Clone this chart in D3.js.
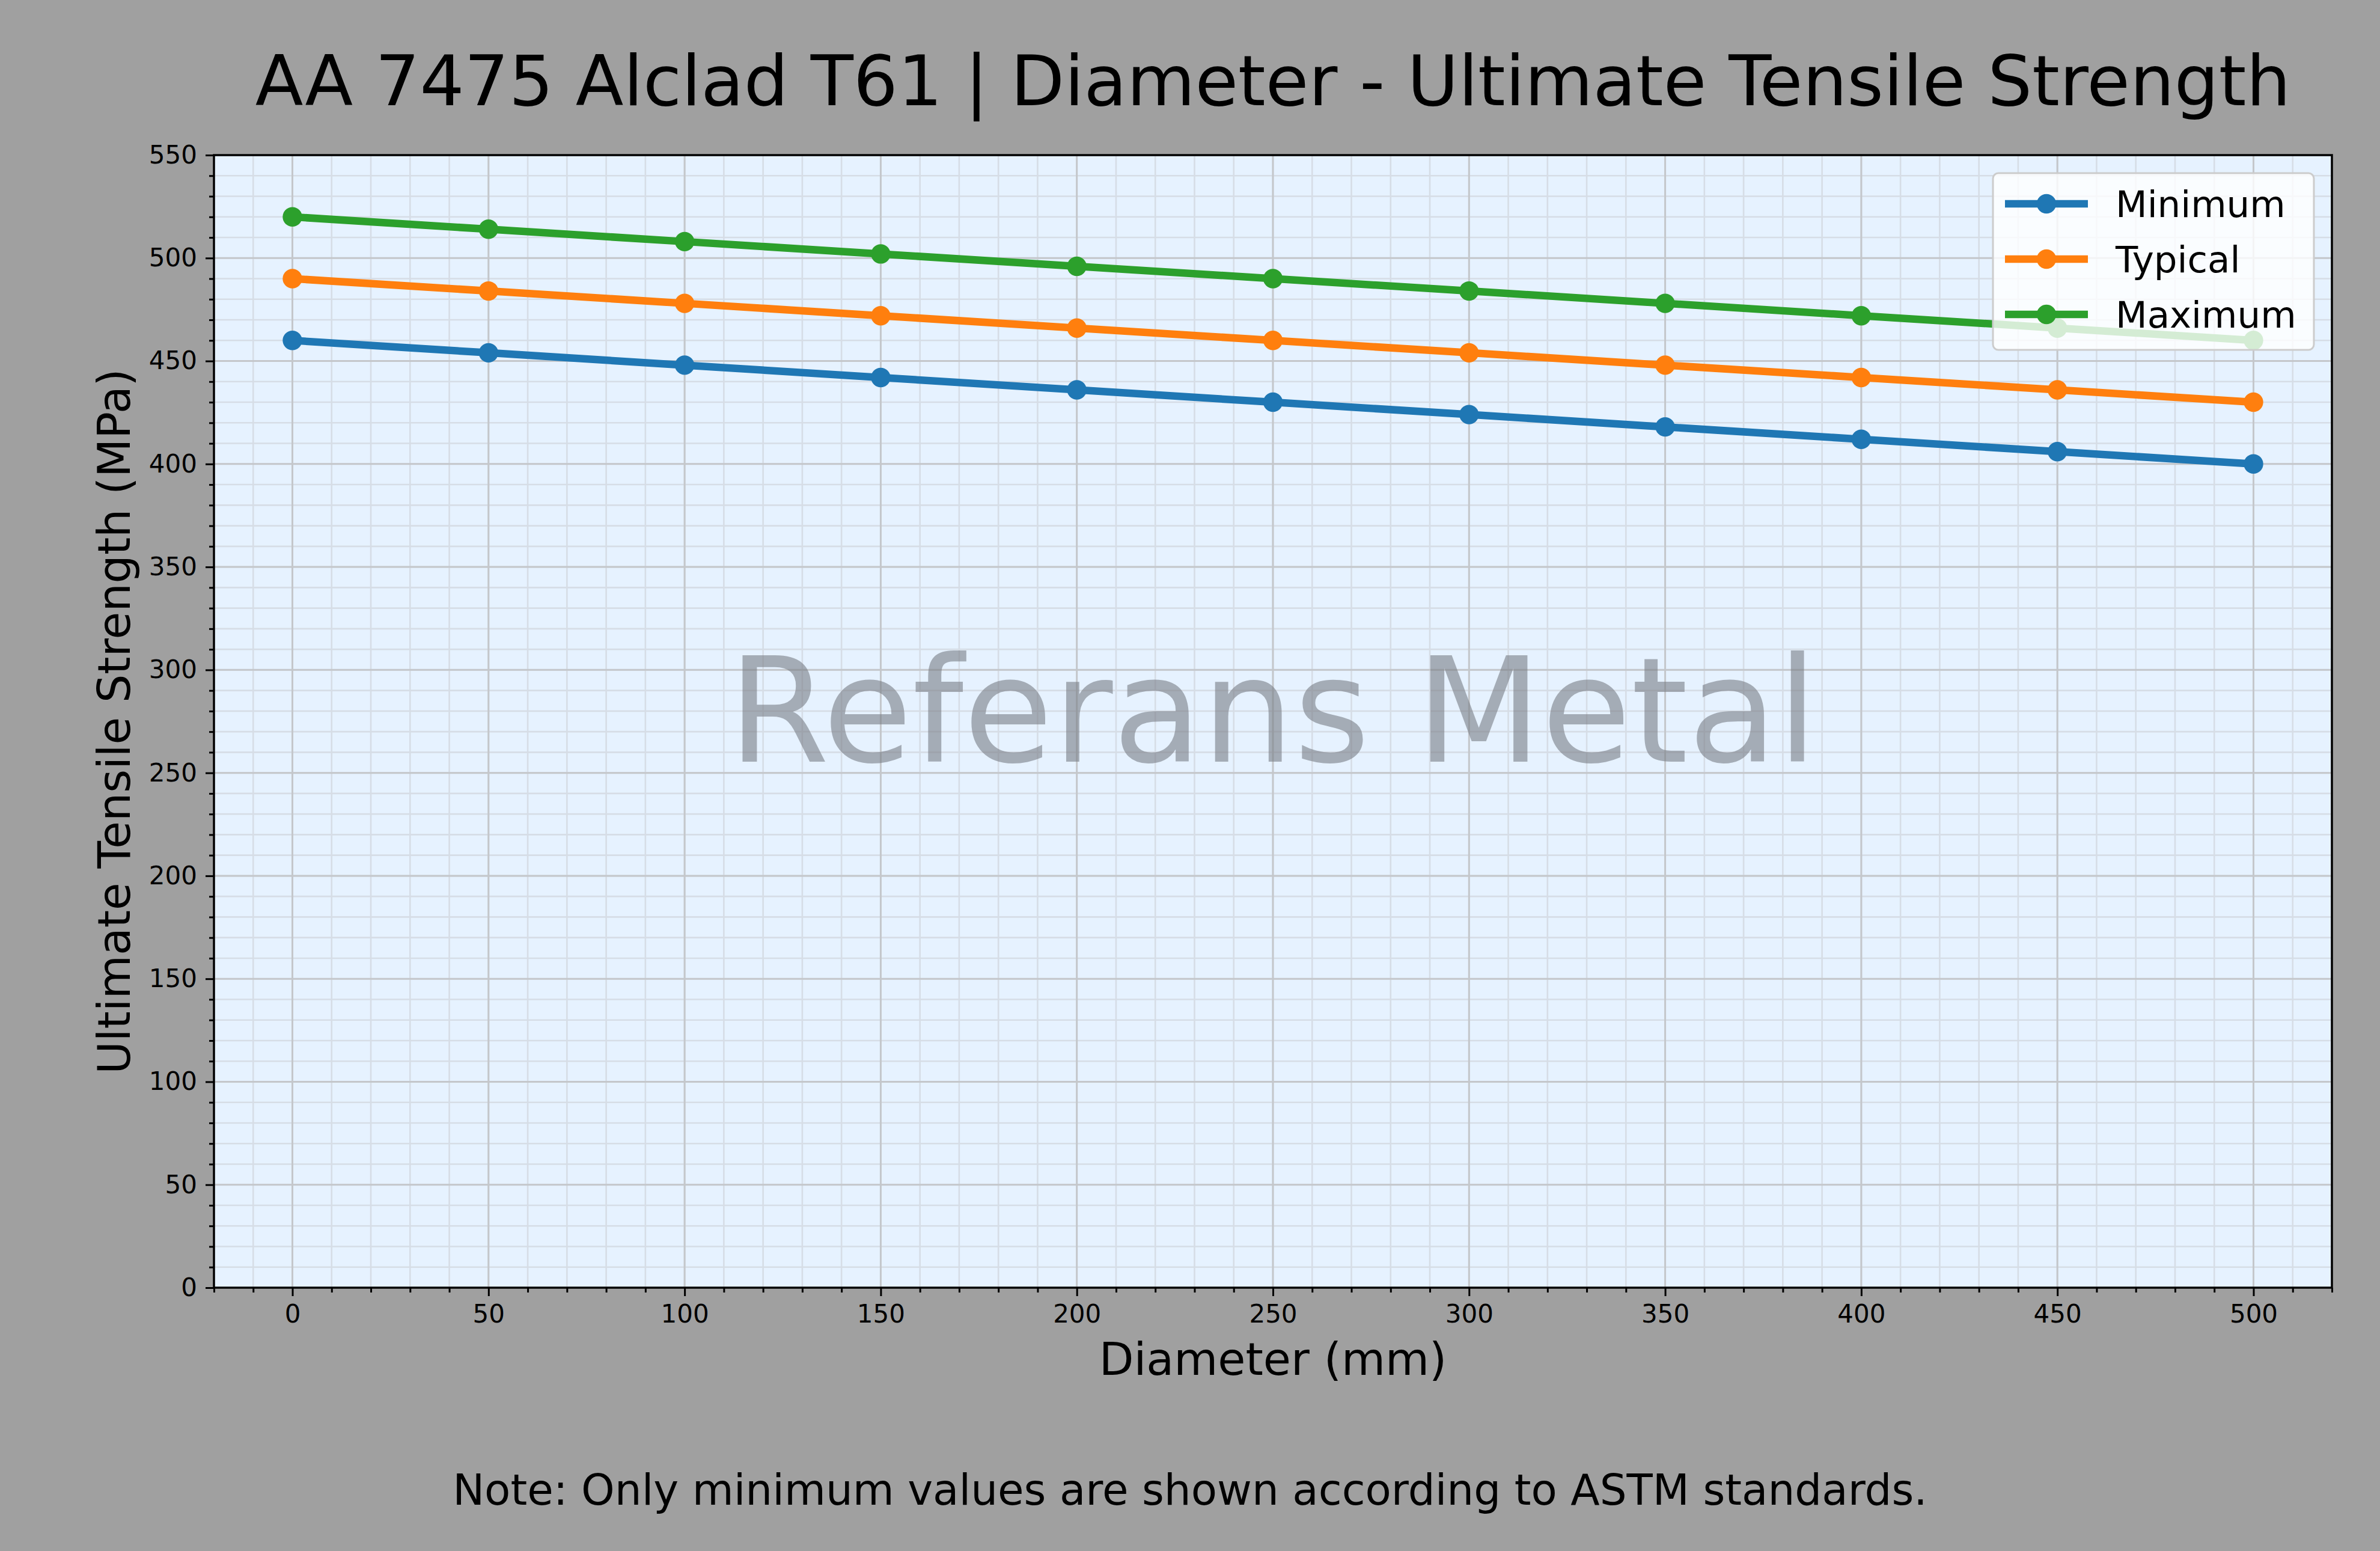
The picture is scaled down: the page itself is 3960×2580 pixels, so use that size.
<!DOCTYPE html>
<html>
<head>
<meta charset="utf-8">
<script src="https://cdn.jsdelivr.net/npm/d3@7"></script>
<style>
  html, body { margin: 0; padding: 0; background: #a0a0a0; }
  svg { display: block; font-family: "DejaVu Sans", sans-serif; }
</style>
</head>
<body>
<svg id="chart"></svg>
<script>
// AA 7475 Alclad T61 - diameter vs ultimate tensile strength

const diameters     = [0, 50, 100, 150, 200, 250, 300, 350, 400, 450, 500];
const minimumValues = [460, 454, 448, 442, 436, 430, 424, 418, 412, 406, 400];
const typicalValues = [490, 484, 478, 472, 466, 460, 454, 448, 442, 436, 430];
const maximumValues = [520, 514, 508, 502, 496, 490, 484, 478, 472, 466, 460];
const seriesNames   = ['Minimum', 'Typical', 'Maximum'];
const xTickValues   = [0, 50, 100, 150, 200, 250, 300, 350, 400, 450, 500];
const yTickValues   = [0, 50, 100, 150, 200, 250, 300, 350, 400, 450, 500, 550];

const W = 3960, H = 2580;
const m = { left: 356, right: 3880, top: 258, bottom: 2142 };
const colors = ['#1f77b4', '#ff7f0e', '#2ca02c'];

const svg = d3.select('#chart').attr('width', W).attr('height', H);
svg.append('rect').attr('width', W).attr('height', H).attr('fill', '#a0a0a0');

const x = d3.scaleLinear().domain([-20, 520]).range([m.left, m.right]);
const y = d3.scaleLinear().domain([0, 550]).range([m.bottom, m.top]);

// plot background
svg.append('rect')
    .attr('x', m.left).attr('y', m.top)
    .attr('width', m.right - m.left).attr('height', m.bottom - m.top)
    .attr('fill', '#e6f2ff');

// grid: minor then major
const xMinor = d3.range(-20, 521, 10);
const yMinor = d3.range(0, 551, 10);
const grid = svg.append('g');
grid.selectAll('.gxm').data(xMinor).enter().append('line')
    .attr('x1', d => x(d)).attr('x2', d => x(d))
    .attr('y1', m.top).attr('y2', m.bottom)
    .attr('stroke', '#d6dde6').attr('stroke-width', 2.6);
grid.selectAll('.gym').data(yMinor).enter().append('line')
    .attr('y1', d => y(d)).attr('y2', d => y(d))
    .attr('x1', m.left).attr('x2', m.right)
    .attr('stroke', '#d6dde6').attr('stroke-width', 2.6);
grid.selectAll('.gx').data(xTickValues).enter().append('line')
    .attr('x1', d => x(d)).attr('x2', d => x(d))
    .attr('y1', m.top).attr('y2', m.bottom)
    .attr('stroke', '#c4c7cb').attr('stroke-width', 3);
grid.selectAll('.gy').data(yTickValues).enter().append('line')
    .attr('y1', d => y(d)).attr('y2', d => y(d))
    .attr('x1', m.left).attr('x2', m.right)
    .attr('stroke', '#c4c7cb').attr('stroke-width', 3);

// watermark
svg.append('text')
    .attr('x', (m.left + m.right) / 2)
    .attr('y', 1267)
    .attr('text-anchor', 'middle')
    .style('font-size', '242px')
    .style('fill', '#787d85')
    .style('fill-opacity', 0.6)
    .text('Referans Metal');

// series
const series = [minimumValues, typicalValues, maximumValues];
const line = d3.line().x((d, i) => x(diameters[i])).y(d => y(d));
series.forEach((vals, k) => {
    svg.append('path')
        .datum(vals)
        .attr('d', line)
        .attr('fill', 'none')
        .attr('stroke', colors[k])
        .attr('stroke-width', 12.5)
        .attr('stroke-linejoin', 'round');
    svg.selectAll('.pt' + k).data(vals).enter().append('circle')
        .attr('cx', (d, i) => x(diameters[i]))
        .attr('cy', d => y(d))
        .attr('r', 16.2)
        .attr('fill', colors[k]);
});

// axes
const xAxis = svg.append('g').attr('transform', `translate(0,${m.bottom})`)
    .call(d3.axisBottom(x).tickValues(xTickValues).tickSize(14).tickPadding(14).tickFormat(d3.format('d')));
const xAxisMinor = svg.append('g').attr('transform', `translate(0,${m.bottom})`)
    .call(d3.axisBottom(x).tickValues(xMinor.filter(d => d % 50 !== 0)).tickSize(8).tickFormat(''));
const yAxis = svg.append('g').attr('transform', `translate(${m.left},0)`)
    .call(d3.axisLeft(y).tickValues(yTickValues).tickSize(14).tickPadding(14).tickFormat(d3.format('d')));
const yAxisMinor = svg.append('g').attr('transform', `translate(${m.left},0)`)
    .call(d3.axisLeft(y).tickValues(yMinor.filter(d => d % 50 !== 0)).tickSize(8).tickFormat(''));

[xAxis, yAxis, xAxisMinor, yAxisMinor].forEach(g => {
    g.select('.domain').remove();
    g.selectAll('line').attr('stroke', '#000').attr('stroke-width', 3);
    g.selectAll('text').style('font-size', '42px').style('font-family', '"DejaVu Sans", sans-serif').attr('fill', '#000');
});
xAxis.selectAll('text').attr('dy', '0.71em');

// frame
svg.append('rect')
    .attr('x', m.left).attr('y', m.top)
    .attr('width', m.right - m.left).attr('height', m.bottom - m.top)
    .attr('fill', 'none').attr('stroke', '#000').attr('stroke-width', 3.5);

// legend
const lg = svg.append('g');
lg.append('rect')
    .attr('x', 3316).attr('y', 288)
    .attr('width', 534).attr('height', 294)
    .attr('rx', 9)
    .attr('fill', 'rgba(255,255,255,0.8)')
    .attr('stroke', '#cccccc').attr('stroke-width', 3);
seriesNames.forEach((name, k) => {
    const cy = 339 + k * 92;
    lg.append('line')
        .attr('x1', 3336).attr('x2', 3474).attr('y1', cy).attr('y2', cy)
        .attr('stroke', colors[k]).attr('stroke-width', 12.5);
    lg.append('circle').attr('cx', 3405).attr('cy', cy).attr('r', 16.2).attr('fill', colors[k]);
    lg.append('text')
        .attr('x', 3520).attr('y', cy).attr('dy', '0.36em')
        .style('font-size', '61px')
        .text(name);
});

// titles
svg.append('text')
    .attr('x', (m.left + m.right) / 2).attr('y', 175)
    .attr('text-anchor', 'middle')
    .style('font-size', '116.5px')
    .text('AA 7475 Alclad T61 | Diameter - Ultimate Tensile Strength');

svg.append('text')
    .attr('x', (m.left + m.right) / 2).attr('y', 2287)
    .attr('text-anchor', 'middle')
    .style('font-size', '75px')
    .text('Diameter (mm)');

svg.append('text')
    .attr('transform', `translate(216,${(m.top + m.bottom) / 2}) rotate(-90)`)
    .attr('text-anchor', 'middle')
    .style('font-size', '74.5px')
    .text('Ultimate Tensile Strength (MPa)');

svg.append('text')
    .attr('x', W / 2).attr('y', 2503)
    .attr('text-anchor', 'middle')
    .style('font-size', '70.8px')
    .text('Note: Only minimum values are shown according to ASTM standards.');
</script>
</body>
</html>
